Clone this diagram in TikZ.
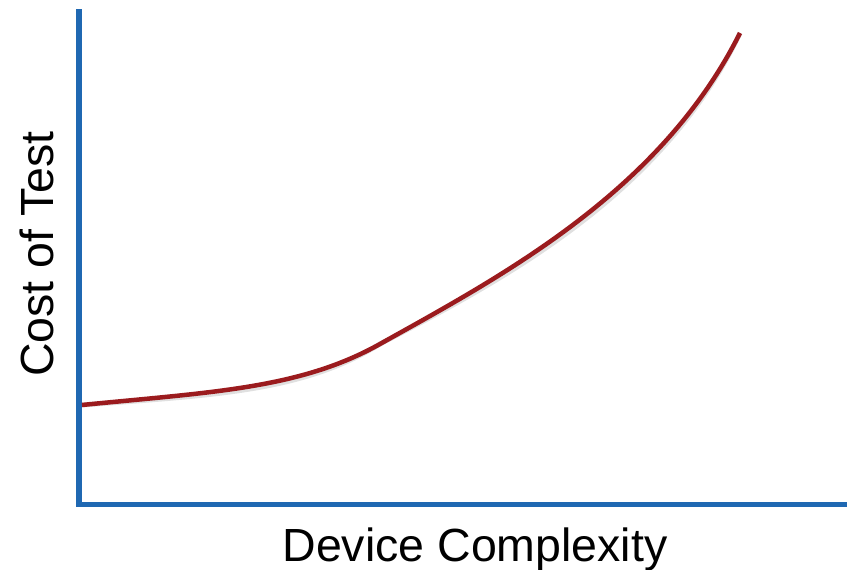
\documentclass[tikz,border=0pt]{standalone}
\usepackage{fontspec}
\setmainfont{Liberation Sans}
\definecolor{axisblue}{RGB}{31,104,178}
\definecolor{curvered}{RGB}{155,27,30}
\tikzset{
  axisline/.style={draw=axisblue, line width=5.5pt, line join=miter},
  curveline/.style={draw=curvered, line width=4.5pt, line cap=butt},
  shadowline/.style={draw=black, opacity=0.12, line width=5pt, shift={(2.5,3)}},
  label/.style={font=\fontsize{46.5}{56}\selectfont, inner sep=0pt, anchor=base}
}
\begin{document}
\begin{tikzpicture}[x=1pt,y=-1pt]
\useasboundingbox (0,0) rectangle (849,570);
\coordinate (top) at (79,9);
\coordinate (origin) at (79,504.5);
\coordinate (right) at (847,504.5);
\coordinate (cstart) at (82,405);
\coordinate (cmid) at (380,344);
\coordinate (cend) at (740,33);
% shadows
\draw[shadowline] (top) -- (origin) -- (right);
\draw[shadowline] (cstart) .. controls (212,392) and (300,388.8) .. (cmid)
  .. controls (500,276.8) and (660,193) .. (cend);
% axes
\draw[axisline] (top) -- (origin) -- (right);
% curve
\draw[curveline] (cstart) .. controls (212,392) and (300,388.8) .. (cmid)
  .. controls (500,276.8) and (660,193) .. (cend);
% labels
\node[label] (xlabel) at (475,561) {Device Complexity};
\node[label, rotate=90] (ylabel) at (53,254) {Cost of Test};
\end{tikzpicture}
\end{document}
